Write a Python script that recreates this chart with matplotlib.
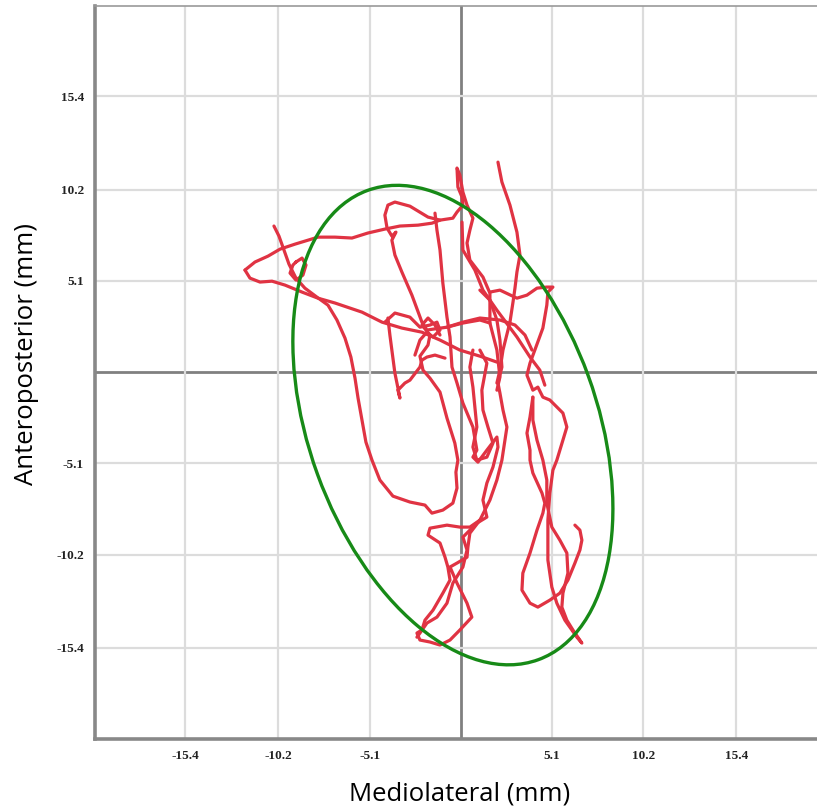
"""
Stabilogram: centre-of-pressure sway path with 95% confidence ellipse.
"""

import matplotlib
matplotlib.use("Agg")
import matplotlib.pyplot as plt
from matplotlib.patches import Ellipse

# ---- data (mm) -------------------------------------------------------------
tick_values = [-15.4, -10.2, -5.1, 5.1, 10.2, 15.4]
tick_labels = ["-15.4", "-10.2", "-5.1", "5.1", "10.2", "15.4"]

# sway path
path_x = [
    [-12.07, -11.51, -10.78, -10.11, -9.27, -7.99, -7.04, -6.09, -5.20, -4.25, -3.41,
     -2.40, -1.62, -1.17, -0.45, -0.22, 0.11, 0.06, -0.17, -0.22, -0.06, 0.11, 0.34,
     0.67, 0.50, 0.34, 0.50, 1.23, 1.62, 1.62, 2.01, 2.18, 2.01],
    [-12.07, -11.79, -11.23, -10.56, -9.83, -8.88, -7.99, -7.04, -5.53, -4.41, -3.30,
     -2.18, -1.17, -0.06, 1.06, 2.01],
    [-10.45, -10.17, -9.89, -9.61, -9.22, -8.72, -8.05, -7.43, -6.93, -6.48, -6.15,
     -5.92, -5.75, -5.53, -5.31, -4.97, -4.53, -3.80, -2.85, -2.01, -1.62, -1.01,
     -0.45, -0.22, -0.28, -0.17, -0.34, -0.78, -1.17, -1.73, -2.12, -2.29, -1.84,
     -1.73, -2.18, -1.84, -1.45, -1.17],
    [-9.22, -8.88, -8.66, -8.83, -9.22, -9.55, -9.39, -9.22],
    [-1.17, -1.84, -2.85, -3.69, -4.08, -4.25, -4.13, -3.86, -3.63, -3.86, -3.69,
     -3.30, -2.74, -2.18, -1.90, -0.78, 0.11, 1.06, 1.62],
    [-4.08, -3.97, -3.86, -3.69, -3.52, -3.41, -3.52, -3.13, -2.85, -2.29, -2.18,
     -1.90, -1.45, -0.89],
    [-1.45, -1.34, -1.17, -1.01, -0.78, -0.61, -0.50, -0.22, 0.11, 0.67, 0.89, 0.67,
     0.95, 1.45, 2.01, 2.07, 1.79, 1.45, 1.23, 1.45, 0.89, 0.11, 0.34, 0.11, -0.45,
     -0.78, -1.34, -1.90, -2.29, -2.46],
    [1.06, 0.50, -0.06, -0.78, -1.73, -1.84, -1.17, -0.89, -0.73, -0.61, -1.01, -1.56,
     -2.01, -2.18, -2.46, -2.29, -1.73, -1.17, -0.61, -0.06, 0.61, 0.34, -0.22, -0.61,
     -0.22, 0.34, 0.39, 0.50, 1.06, 1.62, 2.01, 2.29, 2.46, 2.57, 2.35, 2.18, 2.07,
     2.29, 2.18, 2.01, 1.62, 1.06],
    [0.06, 0.11, 0.78, 1.23, 2.01, 3.13, 3.86, 4.41, 4.69],
    [2.07, 2.29, 2.74, 3.13, 3.30, 3.13, 3.02, 2.91, 2.74, 2.35, 2.18, 2.01],
    [1.62, 2.18, 3.13, 3.69, 4.25, 4.80, 5.14, 4.86, 4.80, 4.58, 4.13, 3.86, 3.69,
     4.02, 4.30, 4.58, 4.97, 5.70, 5.92, 5.70, 5.36, 5.14, 4.97, 4.86, 4.86, 5.08,
     5.36, 5.81, 6.20, 6.48, 6.76, 6.26, 5.92, 5.64, 5.70, 5.98, 5.92, 5.53, 5.08,
     4.80, 4.80, 4.58, 4.25, 4.02, 4.02],
    [4.02, 3.86, 3.69, 3.86, 3.86, 4.02, 4.53, 4.69, 4.58, 4.25, 3.86, 3.46, 3.41,
     3.86, 4.30, 4.97, 5.53, 5.98, 6.37, 6.65, 6.76, 6.65, 6.37],
    [0.67, 0.50, 0.67, 0.78, 0.89, 0.67, 0.89, 1.45, 1.79, 1.51, 1.23, 1.17, 1.45, 1.06],
    [-4.25, -3.69, -2.85, -2.29, -1.73, -1.34, -1.17, -1.56, -1.90, -2.29, -2.57],
    [-0.78, 0.11, 1.06, 2.18, 3.02, 3.58, 3.97],
]
path_y = [
    [5.70, 6.15, 6.48, 6.87, 7.15, 7.54, 7.54, 7.49, 7.77, 7.99, 8.16, 8.21, 8.32,
     8.49, 8.60, 8.94, 9.33, 9.78, 10.34, 11.40, 11.01, 10.06, 9.33, 8.60, 7.93, 7.21,
     6.26, 5.31, 4.41, 2.74, 1.23, -0.28, -1.01],
    [5.70, 5.25, 5.03, 5.08, 4.86, 4.47, 4.13, 3.86, 3.35, 2.79, 2.46, 2.23, 1.79,
     1.23, 0.89, 0.56],
    [8.16, 7.60, 6.82, 6.03, 5.25, 4.69, 4.19, 3.74, 2.91, 1.90, 0.84, -0.34, -1.45,
     -2.68, -3.91, -4.92, -6.03, -6.93, -7.26, -7.43, -7.88, -7.71, -7.32, -6.48,
     -5.59, -4.92, -3.97, -2.57, -1.12, -0.34, 0.11, 0.89, 1.51, 2.07, 2.63, 3.02,
     2.63, 2.07],
    [6.15, 6.37, 5.98, 5.42, 5.14, 5.53, 5.98, 6.15],
    [8.49, 8.66, 9.27, 9.50, 9.33, 8.77, 8.05, 7.60, 7.82, 7.37, 6.54, 5.59, 4.30,
     2.79, 2.35, 2.51, 2.74, 2.91, 2.74],
    [3.02, 2.07, 1.23, -0.06, -0.89, -1.45, -1.01, -0.61, -0.45, 0.28, 0.67, 0.84,
     0.95, 0.78],
    [8.88, 7.93, 6.82, 4.97, 3.07, 1.96, 0.28, -0.61, -1.73, -3.07, -4.36, -4.75,
     -5.03, -4.36, -3.63, -4.19, -5.31, -6.20, -7.15, -8.10, -8.44, -9.22, -9.94,
     -10.89, -11.79, -12.91, -13.69, -14.02, -14.58, -14.81],
    [-8.27, -8.66, -8.66, -8.55, -8.72, -9.11, -9.55, -10.34, -10.89, -11.62, -12.35,
     -13.30, -13.86, -14.41, -14.58, -14.97, -15.08, -15.25, -14.97, -14.41, -13.69,
     -12.91, -11.79, -10.89, -10.67, -10.34, -9.78, -9.00, -8.27, -7.15, -6.03, -4.92,
     -3.80, -3.07, -2.12, -1.17, -0.61, 0.28, 1.79, 2.91, 4.02, 4.58],
    [8.38, 6.82, 5.70, 4.58, 3.46, 1.96, 0.84, 0.11, -0.73],
    [11.73, 10.62, 9.33, 7.82, 6.54, 5.59, 4.69, 3.91, 2.79, 1.23, 0.11, -0.61],
    [4.47, 4.58, 4.13, 4.30, 4.69, 4.75, 4.75, 4.47, 3.74, 2.46, 1.23, 0.50, -0.17,
     -1.01, -0.84, -1.40, -1.56, -2.29, -3.07, -3.80, -4.92, -5.48, -6.76, -8.27,
     -10.50, -12.01, -12.91, -13.86, -14.41, -14.81, -15.14, -14.41, -13.86, -13.13,
     -12.35, -11.23, -10.11, -9.39, -8.66, -7.32, -6.03, -4.92, -3.80, -2.68, -1.40],
    [-1.40, -2.51, -3.41, -4.36, -4.92, -5.64, -6.76, -7.32, -7.88, -8.83, -10.11,
     -11.23, -12.18, -12.91, -13.13, -12.74, -12.35, -11.62, -10.67, -9.94, -9.39,
     -8.83, -8.55],
    [1.23, 0.28, -0.84, -1.96, -3.07, -4.19, -4.92, -4.75, -3.97, -3.07, -2.12, -1.01,
     0.50, 1.23],
    [2.79, 3.30, 3.07, 2.51, 2.63, 2.79, 2.35, 1.96, 2.23, 1.79, 0.95],
    [2.51, 2.79, 3.02, 2.91, 2.63, 2.07, 1.23],
]

# confidence ellipse
ellipse_center = (-0.45, -2.96)
ellipse_major = 27.9
ellipse_minor = 16.1
ellipse_angle = 110  # degrees, major axis from +x


def plot_stabilogram(save_path="out.png"):
    """Draw sway path, ellipse and the grey cross-hair grid."""
    fig = plt.figure(figsize=(8.17, 8.09), dpi=100)
    ax = fig.add_axes([0.1163, 0.0865, 0.8837, 0.906])

    ax.set_xlim(-20.45, 19.9)
    ax.set_ylim(-20.5, 20.45)

    # grid + centre lines
    ax.set_xticks(tick_values)
    ax.set_yticks(tick_values)
    ax.grid(True, color="#dcdcdc", lw=1.6, zorder=0)
    ax.axhline(0, color="#808080", lw=2.0, zorder=1)
    ax.axvline(0, color="#808080", lw=2.0, zorder=1)

    ax.set_xticklabels(tick_labels, fontsize=9.5, fontweight="bold", family="Liberation Serif")
    ax.set_yticklabels(tick_labels, fontsize=9.5, fontweight="bold", family="Liberation Serif")
    ax.tick_params(axis="both", length=0, colors="#222222")
    ax.tick_params(axis="x", pad=8)
    ax.tick_params(axis="y", pad=8)

    for xs, ys in zip(path_x, path_y):
        ax.plot(xs, ys, color="#e03343", lw=2.3, solid_joinstyle="round",
                solid_capstyle="round", zorder=3)

    ell = Ellipse(ellipse_center, ellipse_major, ellipse_minor, angle=ellipse_angle,
                  fill=False, edgecolor="#178a17", lw=2.4, zorder=4)
    ax.add_patch(ell)

    ax.spines["right"].set_visible(False)
    ax.spines["top"].set_color("#999999")
    ax.spines["top"].set_linewidth(1.2)
    for side in ("left", "bottom"):
        ax.spines[side].set_color("#888888")
        ax.spines[side].set_linewidth(2.6)

    ax.set_xlabel("Mediolateral (mm)", fontsize=18.5, family="Open Sans")
    ax.set_ylabel("Anteroposterior (mm)", fontsize=18.5, family="Open Sans")
    ax.xaxis.set_label_coords(0.505, -0.058)
    ax.yaxis.set_label_coords(-0.077, 0.525)

    plt.savefig(save_path, dpi=100)
    print(f"Saved: {save_path}")


if __name__ == "__main__":
    plot_stabilogram("out.png")
